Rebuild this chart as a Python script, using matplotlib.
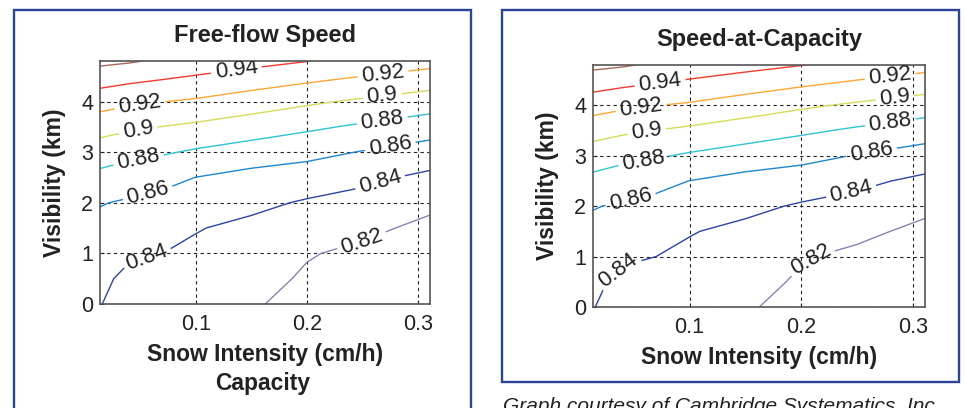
import numpy as np
import matplotlib.pyplot as plt
from matplotlib.patches import Rectangle

plt.rcParams['font.family'] = ['Liberation Sans', 'DejaVu Sans']

# grid: snow intensity (cm/h) x visibility (km)
snow = [0.0135, 0.04, 0.07, 0.10, 0.15, 0.20, 0.25, 0.311]
visibility = [0, 0.5, 1, 1.5, 2, 2.5, 3, 3.5, 4, 4.5, 4.8]

# speed ratio, rows = visibility, cols = snow
ffs_ratio = np.array([
    [0.8405, 0.8340, 0.8310, 0.8280, 0.8215, 0.8155, 0.8100, 0.8040],
    [0.8435, 0.8360, 0.8345, 0.8320, 0.8260, 0.8178, 0.8125, 0.8075],
    [0.8490, 0.8423, 0.8400, 0.8365, 0.8310, 0.8212, 0.8165, 0.8110],
    [0.8550, 0.8500, 0.8474, 0.8410, 0.8355, 0.8297, 0.8238, 0.8160],
    [0.8610, 0.8577, 0.8548, 0.8509, 0.8445, 0.8380, 0.8333, 0.8238],
    [0.8747, 0.8700, 0.8651, 0.8598, 0.8535, 0.8506, 0.8444, 0.8357],
    [0.8898, 0.8853, 0.8821, 0.8775, 0.8714, 0.8656, 0.8591, 0.8512],
    [0.9078, 0.9033, 0.8996, 0.8962, 0.8898, 0.8835, 0.8771, 0.8696],
    [0.9283, 0.9239, 0.9204, 0.9174, 0.9102, 0.9032, 0.8971, 0.8900],
    [0.9507, 0.9468, 0.9430, 0.9391, 0.9327, 0.9262, 0.9200, 0.9129],
    [0.9647, 0.9620, 0.9570, 0.9520, 0.9464, 0.9405, 0.9333, 0.9271],
])
# speed-at-capacity reads the same off the picture
sac_ratio = ffs_ratio.copy()

levels = [0.82, 0.84, 0.86, 0.88, 0.90, 0.92, 0.94, 0.96]
line_colors = ['#8585b5', '#2a45a5', '#1f86d0', '#2fc3d3', '#d5dc5a',
               '#ffa733', '#f23a30', '#a66a5a']

# where clabel should put the labels (data coords)
ffs_labels = [(0.137, 4.52), (0.050, 3.86), (0.269, 4.48), (0.048, 3.43),
              (0.268, 4.09), (0.048, 2.87), (0.268, 3.62), (0.057, 2.15),
              (0.275, 3.14), (0.056, 0.90), (0.266, 2.41), (0.248, 1.36)]
sac_labels = [(0.074, 4.40), (0.057, 3.90), (0.280, 4.53), (0.062, 3.44),
              (0.284, 4.13), (0.059, 2.88), (0.280, 3.64), (0.047, 2.15),
              (0.263, 3.08), (0.038, 0.69), (0.245, 2.28), (0.209, 0.93)]

border = '#2b4596'
W, H = 965, 408

fig = plt.figure(figsize=(9.65, 4.08), dpi=100)

# blue frames round the two panels
fig.add_artist(Rectangle((13.5/W, -0.05), 457/W, 1.05 - 10/H,
                         transform=fig.transFigure, fill=False, ec=border, lw=1.7))
fig.add_artist(Rectangle((501.5/W, 26/H), 457/W, (382 - 10)/H,
                         transform=fig.transFigure, fill=False, ec=border, lw=1.7))


def panel(rect, Z, title, label_pos):
    ax = fig.add_axes(rect)
    cs = ax.contour(snow, visibility, Z, levels=levels, colors=line_colors,
                    linewidths=1.0)
    ax.clabel(cs, manual=label_pos, inline=True, inline_spacing=4,
              fontsize=16, colors='#222222', fmt='%g')
    ax.set_xlim(0.0135, 0.311)
    ax.set_ylim(0, 4.8)
    ax.set_xticks([0.1, 0.2, 0.3])
    ax.set_yticks([0, 1, 2, 3, 4])
    ax.grid(True, linestyle=(0, (3, 3)), color='#222222', linewidth=0.8)
    ax.tick_params(direction='in', length=3, labelsize=15.5, colors='#222222')
    ax.tick_params(axis='x', pad=7)
    ax.tick_params(axis='y', pad=5)
    for s in ax.spines.values():
        s.set_color('#555555')
        s.set_linewidth(1.2)
    ax.set_title(title, fontsize=17, fontweight='bold', pad=14, color='#222222')
    ax.set_xlabel('Snow Intensity (cm/h)', fontsize=16.5, fontweight='bold',
                  color='#222222')
    ax.set_ylabel('Visibility (km)', fontsize=16.5, fontweight='bold',
                  color='#222222')
    ax.xaxis.set_label_coords(0.5, -0.16)
    ax.yaxis.set_label_coords(-0.103, 0.5)
    return ax


panel([100/W, 1 - 304/H, 330/W, 243/H], ffs_ratio, 'Free-flow Speed', ffs_labels)
panel([593/W, 1 - 307/H, 332/W, 242/H], sac_ratio, 'Speed-at-Capacity', sac_labels)

fig.text(263/W, 18/H, 'Capacity', fontsize=16.5, fontweight='bold',
         ha='center', va='baseline', color='#222222')
fig.text(503/W, -4/H, 'Graph courtesy of Cambridge Systematics, Inc.',
         fontsize=15, style='italic', ha='left', va='baseline', color='#222222')

fig.savefig('out.png', dpi=100)
